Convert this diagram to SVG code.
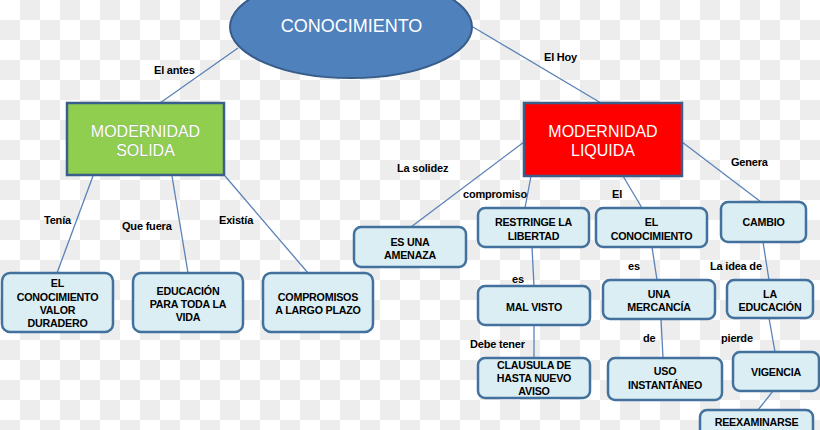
<svg xmlns="http://www.w3.org/2000/svg" width="820" height="430" viewBox="0 0 820 430">
<defs>
<pattern id="chk" width="40" height="40" patternUnits="userSpaceOnUse">
<rect width="40" height="40" fill="#ffffff"/>
<rect x="20" y="0" width="20" height="20" fill="#ededed"/>
<rect x="0" y="20" width="20" height="20" fill="#ededed"/>
</pattern>
<style>
.ln{stroke:#5b82b8;stroke-width:1.3;fill:none}
.lbl{font-family:"Liberation Sans",Arial,sans-serif;font-weight:bold;font-size:11px;fill:#000;letter-spacing:-0.2px}
.box{fill:#dbeef4;stroke:#41719c;stroke-width:2.5}
.bt{font-family:"Liberation Sans",Arial,sans-serif;font-weight:bold;font-size:10.7px;fill:#000;text-anchor:middle;letter-spacing:-0.2px}
.big{font-family:"Liberation Sans",Arial,sans-serif;font-size:16px;fill:#fff;text-anchor:middle}
</style>
</defs>
<rect width="820" height="430" fill="url(#chk)"/>

<g id="connectors">
<line class="ln" x1="238" y1="48" x2="160" y2="103"/>
<line class="ln" x1="473" y1="27" x2="601" y2="103"/>
<line class="ln" x1="93" y1="176" x2="57" y2="273"/>
<line class="ln" x1="172" y1="176" x2="188" y2="273"/>
<line class="ln" x1="225" y1="176" x2="308" y2="273"/>
<line class="ln" x1="524" y1="142" x2="411" y2="227"/>
<line class="ln" x1="531" y1="176" x2="525" y2="208"/>
<line class="ln" x1="623" y1="176" x2="642" y2="208"/>
<line class="ln" x1="682" y1="142" x2="761" y2="202"/>
<line class="ln" x1="532" y1="247" x2="534" y2="286"/>
<line class="ln" x1="652" y1="247" x2="657" y2="280"/>
<line class="ln" x1="763" y1="242" x2="769" y2="280"/>
<line class="ln" x1="534" y1="325" x2="534" y2="358"/>
<line class="ln" x1="661" y1="319" x2="663" y2="358"/>
<line class="ln" x1="769" y1="318" x2="775" y2="352"/>
<line class="ln" x1="773" y1="391" x2="758" y2="410"/>
</g>

<g id="labels">
<text class="lbl" x="154" y="74">El antes</text>
<text class="lbl" x="544" y="61">El Hoy</text>
<text class="lbl" x="397" y="172">La solidez</text>
<text class="lbl" x="463" y="198">compromiso</text>
<text class="lbl" x="612" y="198">El</text>
<text class="lbl" x="731" y="166">Genera</text>
<text class="lbl" x="44" y="224">Tenía</text>
<text class="lbl" x="122" y="230">Que fuera</text>
<text class="lbl" x="219" y="224">Existía</text>
<text class="lbl" x="512" y="283">es</text>
<text class="lbl" x="628" y="270">es</text>
<text class="lbl" x="710" y="270">La idea de</text>
<text class="lbl" x="470" y="348">Debe tener</text>
<text class="lbl" x="643" y="342">de</text>
<text class="lbl" x="721" y="342">pierde</text>
</g>

<g id="conocimiento">
<ellipse cx="351" cy="27" rx="121" ry="51" fill="#4f81bd" stroke="#385d8a" stroke-width="2"/>
<text x="351.5" y="32" font-family="Liberation Sans, Arial, sans-serif" font-size="18" fill="#fff" text-anchor="middle">CONOCIMIENTO</text>
</g>

<g id="modernidad-solida">
<rect x="67" y="103" width="157" height="72" fill="#8fce4e" stroke="#3b5f8c" stroke-width="2.5"/>
<text class="big" x="145.5" y="137" stroke="#8a9a80" stroke-width="0.5" paint-order="stroke">MODERNIDAD</text>
<text class="big" x="145.5" y="156" stroke="#8a9a80" stroke-width="0.5" paint-order="stroke">SOLIDA</text>
</g>

<g id="modernidad-liquida">
<rect x="524" y="103" width="158" height="73" fill="#ff0000" stroke="#3b5f8c" stroke-width="2.5"/>
<text class="big" x="603" y="137">MODERNIDAD</text>
<text class="big" x="603" y="156">LIQUIDA</text>
</g>

<g id="valor-duradero">
<rect class="box" x="2" y="273" width="111" height="59" rx="8"/>
<text class="bt" x="57.5" y="287">EL</text>
<text class="bt" x="57.5" y="301">CONOCIMIENTO</text>
<text class="bt" x="57.5" y="314">VALOR</text>
<text class="bt" x="57.5" y="327">DURADERO</text>
</g>

<g id="educacion-vida">
<rect class="box" x="133" y="273" width="110" height="59" rx="8"/>
<text class="bt" x="188" y="295">EDUCACIÓN</text>
<text class="bt" x="188" y="308">PARA TODA LA</text>
<text class="bt" x="188" y="321">VIDA</text>
</g>

<g id="compromisos">
<rect class="box" x="263" y="273" width="110" height="59" rx="8"/>
<text class="bt" x="318" y="301">COMPROMISOS</text>
<text class="bt" x="318" y="314">A LARGO PLAZO</text>
</g>

<g id="amenaza">
<rect class="box" x="354" y="227" width="112" height="40" rx="7"/>
<text class="bt" x="410" y="246">ES UNA</text>
<text class="bt" x="410" y="259">AMENAZA</text>
</g>

<g id="restringe">
<rect class="box" x="478" y="208" width="111" height="39" rx="7"/>
<text class="bt" x="533.5" y="226">RESTRINGE LA</text>
<text class="bt" x="533.5" y="240">LIBERTAD</text>
</g>

<g id="el-conocimiento">
<rect class="box" x="596" y="208" width="111" height="39" rx="7"/>
<text class="bt" x="651.5" y="226">EL</text>
<text class="bt" x="651.5" y="240">CONOCIMIENTO</text>
</g>

<g id="cambio">
<rect class="box" x="721" y="202" width="85" height="40" rx="7"/>
<text class="bt" x="763.5" y="226">CAMBIO</text>
</g>

<g id="mal-visto">
<rect class="box" x="478" y="286" width="112" height="39" rx="7"/>
<text class="bt" x="534" y="311">MAL VISTO</text>
</g>

<g id="mercancia">
<rect class="box" x="603" y="280" width="112" height="39" rx="7"/>
<text class="bt" x="659" y="298">UNA</text>
<text class="bt" x="659" y="311">MERCANCÍA</text>
</g>

<g id="la-educacion">
<rect class="box" x="727" y="280" width="86" height="38" rx="7"/>
<text class="bt" x="770" y="298">LA</text>
<text class="bt" x="770" y="311">EDUCACIÓN</text>
</g>

<g id="clausula">
<rect class="box" x="478" y="358" width="112" height="40" rx="7"/>
<text class="bt" x="534" y="369">CLAUSULA DE</text>
<text class="bt" x="534" y="382">HASTA NUEVO</text>
<text class="bt" x="534" y="395">AVISO</text>
</g>

<g id="uso">
<rect class="box" x="608" y="358" width="114" height="42" rx="7"/>
<text class="bt" x="665" y="375">USO</text>
<text class="bt" x="665" y="389">INSTANTÁNEO</text>
</g>

<g id="vigencia">
<rect class="box" x="733" y="352" width="86" height="39" rx="7"/>
<text class="bt" x="776" y="376">VIGENCIA</text>
</g>

<g id="reexaminarse">
<rect class="box" x="700" y="410" width="113" height="40" rx="7"/>
<text class="bt" x="756.5" y="426">REEXAMINARSE</text>
</g>
</svg>
